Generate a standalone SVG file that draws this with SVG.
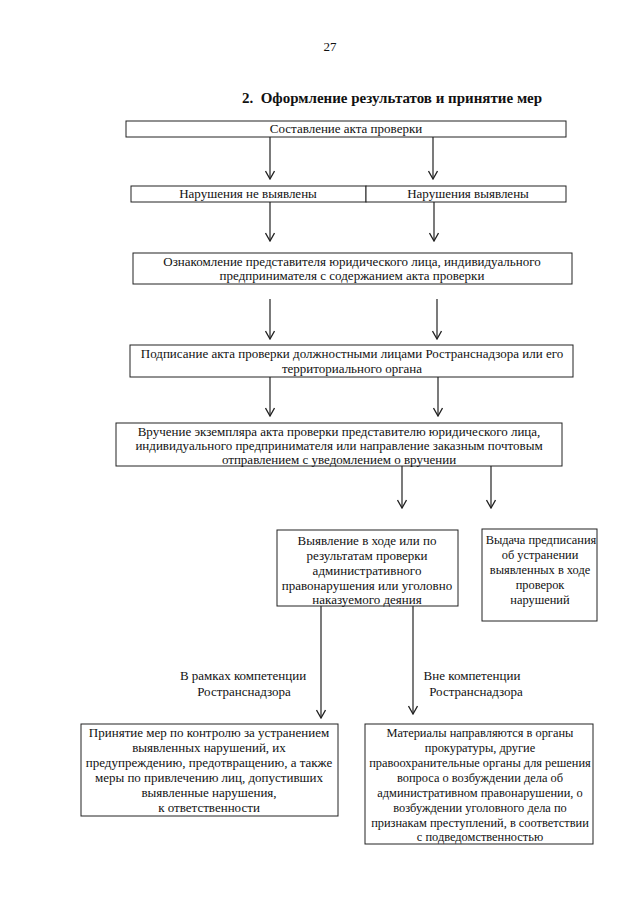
<svg xmlns="http://www.w3.org/2000/svg" width="640" height="905" viewBox="0 0 640 905">
<style>
.bg{fill:#fff}
.box{fill:#fff;stroke:#222;stroke-width:1}
.t{font-family:"Liberation Serif","Times New Roman",serif;font-size:13px;fill:#111;text-anchor:middle}
.s{font-size:12.4px}
.ttl{font-family:"Liberation Serif","Times New Roman",serif;font-size:15px;font-weight:bold;fill:#111;text-anchor:middle}
.c{stroke:#222;stroke-width:1.2;fill:none;marker-end:url(#ah)}
</style>
<defs>
<marker id="ah" viewBox="-9 -5 10 10" refX="0" refY="0" markerWidth="10" markerHeight="10" markerUnits="userSpaceOnUse" orient="auto">
<path d="M-8,-4.5 L0,0 L-8,4.5" fill="none" stroke="#222" stroke-width="1.3"/>
</marker>
</defs>
<rect class="bg" x="0" y="0" width="640" height="905"/>
<text class="t" x="330" y="51" font-size="14">27</text>
<text class="ttl" x="392" y="103" xml:space="preserve">2.  Оформление результатов и принятие мер</text>

<g id="n1"><rect class="box" x="126" y="121" width="440" height="16"/><text class="t" x="346" y="133">Составление акта проверки</text></g>
<g id="n2a"><rect class="box" x="131" y="186" width="235" height="16"/><text class="t" x="248" y="198">Нарушения не выявлены</text></g>
<g id="n2b"><rect class="box" x="366" y="186" width="200" height="16"/><text class="t" x="468" y="198">Нарушения выявлены</text></g>
<g id="n3"><rect class="box" x="133" y="253" width="439" height="31"/><text class="t" x="352" y="266">Ознакомление представителя юридического лица, индивидуального</text><text class="t" x="352" y="280">предпринимателя с содержанием акта проверки</text></g>
<g id="n4"><rect class="box" x="130" y="345" width="443" height="32"/><text class="t" x="352" y="358">Подписание акта проверки должностными лицами Ространснадзора или его</text><text class="t" x="352" y="373">территориального органа</text></g>
<g id="n5"><rect class="box" x="116" y="423" width="446" height="43"/><text class="t" x="339" y="436">Вручение экземпляра акта проверки представителю юридического лица,</text><text class="t" x="339" y="450">индивидуального предпринимателя или направление заказным почтовым</text><text class="t" x="339" y="464">отправлением с уведомлением о вручении</text></g>
<g id="n6"><rect class="box" x="277" y="530" width="181" height="76"/><text class="t" x="367" y="545">Выявление в ходе или по</text><text class="t" x="367" y="560">результатам проверки</text><text class="t" x="367" y="575">административного</text><text class="t" x="367" y="590">правонарушения или уголовно</text><text class="t" x="367" y="604">наказуемого деяния</text></g>
<g id="n7"><rect class="box" x="482" y="529" width="115" height="92"/><text class="t s" x="541" y="544">Выдача предписания</text><text class="t s" x="540" y="559">об устранении</text><text class="t s" x="540" y="574">выявленных в ходе</text><text class="t s" x="540" y="589">проверок</text><text class="t s" x="540" y="604">нарушений</text></g>
<g id="n8"><rect class="box" x="81" y="724" width="257" height="92"/><text class="t" x="209" y="737">Принятие мер по контролю за устранением</text><text class="t" x="209" y="752">выявленных нарушений, их</text><text class="t" x="209" y="767">предупреждению, предотвращению, а также</text><text class="t" x="209" y="782">меры по привлечению лиц, допустивших</text><text class="t" x="209" y="797">выявленные нарушения,</text><text class="t" x="209" y="812">к ответственности</text></g>
<g id="n9"><rect class="box" x="365" y="724" width="228" height="120"/><text class="t s" x="480" y="737">Материалы направляются в органы</text><text class="t s" x="480" y="752">прокуратуры, другие</text><text class="t s" x="480" y="767">правоохранительные органы для решения</text><text class="t s" x="480" y="782">вопроса о возбуждении дела об</text><text class="t s" x="480" y="797">административном правонарушении, о</text><text class="t s" x="480" y="812">возбуждении уголовного дела по</text><text class="t s" x="480" y="827">признакам преступлений, в соответствии</text><text class="t s" x="480" y="841">с подведомственностью</text></g>

<g id="connectors">
<line class="c" x1="270" y1="137" x2="270" y2="179"/>
<line class="c" x1="433" y1="137" x2="433" y2="179"/>
<line class="c" x1="270" y1="202" x2="270" y2="241"/>
<line class="c" x1="434" y1="202" x2="434" y2="241"/>
<line class="c" x1="270" y1="299" x2="270" y2="339"/>
<line class="c" x1="437" y1="299" x2="437" y2="339"/>
<line class="c" x1="270" y1="377" x2="270" y2="416"/>
<line class="c" x1="438" y1="377" x2="438" y2="416"/>
<line class="c" x1="402" y1="466" x2="402" y2="508"/>
<line class="c" x1="491" y1="466" x2="491" y2="508"/>
<line class="c" x1="321" y1="606" x2="321" y2="718"/>
<line class="c" x1="413" y1="606" x2="413" y2="714"/>
<text class="t" x="243" y="680">В рамках компетенции</text>
<text class="t" x="244" y="696">Ространснадзора</text>
<text class="t" x="472" y="680">Вне компетенции</text>
<text class="t" x="476" y="696">Ространснадзора</text>
</g>
</svg>
